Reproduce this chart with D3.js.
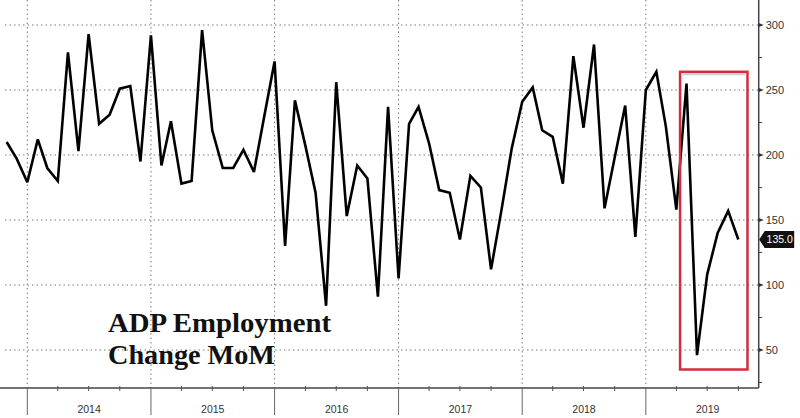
<!DOCTYPE html>
<html>
<head>
<meta charset="utf-8">
<script src="https://cdn.jsdelivr.net/npm/d3@7"></script>
<style>
  html, body { margin: 0; padding: 0; background: #fff; }
  svg { display: block; }
</style>
</head>
<body>
<svg id="chart" width="800" height="418"></svg>
<script>
// ---- Data (ADP Employment Change MoM, thousands) ----
const months = [
  "2013-10","2013-11","2013-12",
  "2014-01","2014-02","2014-03","2014-04","2014-05","2014-06","2014-07","2014-08","2014-09","2014-10","2014-11","2014-12",
  "2015-01","2015-02","2015-03","2015-04","2015-05","2015-06","2015-07","2015-08","2015-09","2015-10","2015-11","2015-12",
  "2016-01","2016-02","2016-03","2016-04","2016-05","2016-06","2016-07","2016-08","2016-09","2016-10","2016-11","2016-12",
  "2017-01","2017-02","2017-03","2017-04","2017-05","2017-06","2017-07","2017-08","2017-09","2017-10","2017-11","2017-12",
  "2018-01","2018-02","2018-03","2018-04","2018-05","2018-06","2018-07","2018-08","2018-09","2018-10","2018-11","2018-12",
  "2019-01","2019-02","2019-03","2019-04","2019-05","2019-06","2019-07","2019-08","2019-09"
];
const values = [
  210, 197, 179,
  212, 190, 180, 279, 203, 293, 224, 231, 251, 253, 195, 292,
  192, 226, 178, 180, 296, 219, 190, 190, 204, 187, 229, 272,
  130, 242, 207, 171, 84, 256, 153, 192, 182, 91, 237, 105,
  224, 237, 209, 173, 171, 135, 184, 175, 112, 158, 205, 241,
  252, 219, 214, 178, 276, 221, 285, 159, 198, 238, 137, 250,
  264, 222, 158, 255, 46, 108, 140, 157, 135
];
const yearLabels = ["2014","2015","2016","2017","2018","2019"];
const yTickValues = [50, 100, 150, 200, 250, 300];
const yMinorTickValues = [25, 75, 125, 175, 225, 275];
const lastLabel = "135.0";
const titleLines = ["ADP Employment", "Change MoM"];
// highlighted period (dates and value bounds)
const highlightDates = ["2019-04-12", "2019-10-28"];
const highlightValues = [35, 264];

// ---- Layout ----
const W = 800, H = 418;
const axisY = 388, axisX = 758.7, plotLeft = 5;

const parse = d3.timeParse("%Y-%m");
const parseDay = d3.timeParse("%Y-%m-%d");
// Values plotted at month end (start of next month)
const data = months.map((m, i) => ({ date: d3.timeMonth.offset(parse(m), 1), value: values[i] }));

const x = d3.scaleTime()
  .domain([new Date(2014, 0, 1), new Date(2020, 0, 1)])
  .range([27.3, 27.3 + 6 * 123.7]);
const y = d3.scaleLinear()
  .domain([50, 300])
  .range([350, 25]);

const svg = d3.select("#chart");
svg.append("rect").attr("width", W).attr("height", H).attr("fill", "#fff");

// Horizontal dotted grid
svg.append("g").selectAll("line").data(yTickValues).join("line")
  .attr("x1", plotLeft).attr("x2", axisX)
  .attr("y1", d => y(d)).attr("y2", d => y(d))
  .attr("stroke", "#7a7a7a").attr("stroke-width", 1)
  .attr("stroke-dasharray", "1.5,3");

// Vertical dotted grid at year boundaries
const yearStarts = yearLabels.map(s => new Date(+s, 0, 1));
svg.append("g").selectAll("line").data(yearStarts).join("line")
  .attr("x1", d => x(d)).attr("x2", d => x(d))
  .attr("y1", 0).attr("y2", axisY)
  .attr("stroke", "#7a7a7a").attr("stroke-width", 1)
  .attr("stroke-dasharray", "1.5,3");

// Bottom axis
const xAxisG = svg.append("g");
xAxisG.append("line")
  .attr("x1", 0).attr("x2", axisX).attr("y1", axisY).attr("y2", axisY)
  .attr("stroke", "#444").attr("stroke-width", 1.5);
// year boundary ticks (long)
xAxisG.selectAll(".ymaj").data(yearStarts).join("line")
  .attr("x1", d => x(d)).attr("x2", d => x(d))
  .attr("y1", axisY).attr("y2", 415)
  .attr("stroke", "#666").attr("stroke-width", 1);
// quarter minor ticks
const quarters = d3.timeMonth.every(3).range(new Date(2014, 0, 1), new Date(2020, 0, 1))
  .filter(d => d.getMonth() !== 0);
xAxisG.selectAll(".qmin").data(quarters).join("line")
  .attr("x1", d => x(d)).attr("x2", d => x(d))
  .attr("y1", axisY - 2).attr("y2", axisY + 3)
  .attr("stroke", "#555").attr("stroke-width", 1);
// year labels
xAxisG.selectAll("text").data(yearLabels).join("text")
  .attr("x", d => (x(new Date(+d, 0, 1)) + x(new Date(+d + 1, 0, 1))) / 2)
  .attr("y", 413)
  .attr("text-anchor", "middle")
  .attr("font-family", "Liberation Sans, Arial, sans-serif")
  .attr("font-size", 10.5)
  .attr("fill", "#333")
  .text(d => d);

// Right axis
const yAxisG = svg.append("g");
yAxisG.append("line")
  .attr("x1", axisX).attr("x2", axisX).attr("y1", 0).attr("y2", axisY)
  .attr("stroke", "#444").attr("stroke-width", 1.5);
yAxisG.selectAll(".ymin").data(yMinorTickValues).join("line")
  .attr("x1", axisX).attr("x2", axisX + 3.5)
  .attr("y1", d => y(d)).attr("y2", d => y(d))
  .attr("stroke", "#444").attr("stroke-width", 1);
yAxisG.selectAll(".ymajt").data(yTickValues).join("path")
  .attr("d", d => `M${axisX},${y(d) - 2}L${axisX + 5},${y(d)}L${axisX},${y(d) + 2}Z`)
  .attr("fill", "#333");
yAxisG.selectAll("text").data(yTickValues).join("text")
  .attr("x", axisX + 7)
  .attr("y", d => y(d))
  .attr("dy", "0.35em")
  .attr("font-family", "Liberation Sans, Arial, sans-serif")
  .attr("font-size", 11)
  .attr("fill", "#333")
  .text(d => d);

// Line
const line = d3.line().x(d => x(d.date)).y(d => y(d.value));
svg.append("path")
  .datum(data)
  .attr("d", line)
  .attr("fill", "none")
  .attr("stroke", "#000")
  .attr("stroke-width", 2.6)
  .attr("stroke-linejoin", "miter")
  .attr("stroke-miterlimit", 3);

// Highlight rectangle
const hx0 = x(parseDay(highlightDates[0])), hx1 = x(parseDay(highlightDates[1]));
const hy0 = y(highlightValues[1]), hy1 = y(highlightValues[0]);
svg.append("line")
  .attr("x1", hx0 + 2).attr("x2", hx1 - 2).attr("y1", hy0 + 2.5).attr("y2", hy0 + 2.5)
  .attr("stroke", "#cfcfcf").attr("stroke-width", 2);
svg.append("rect")
  .attr("x", hx0).attr("y", hy0)
  .attr("width", hx1 - hx0).attr("height", hy1 - hy0)
  .attr("fill", "none")
  .attr("stroke", "#d32c3c")
  .attr("stroke-width", 2.5);

// Last value tag
const last = data[data.length - 1];
const ty = y(last.value);
svg.append("path")
  .attr("d", `M${axisX + 0.5},${ty}L${axisX + 6},${ty - 8.5}L${axisX + 35.5},${ty - 8.5}L${axisX + 35.5},${ty + 8.5}L${axisX + 6},${ty + 8.5}Z`)
  .attr("fill", "#111");
svg.append("text")
  .attr("x", axisX + 21).attr("y", ty).attr("dy", "0.36em")
  .attr("text-anchor", "middle")
  .attr("font-family", "Liberation Sans, Arial, sans-serif")
  .attr("font-size", 10.5)
  .attr("fill", "#fff")
  .text(lastLabel);

// Title
const title = svg.append("text")
  .attr("font-family", "Liberation Serif, 'Times New Roman', serif")
  .attr("font-weight", "bold")
  .attr("font-size", 27)
  .attr("fill", "#111");
title.append("tspan").attr("x", 108).attr("y", 332)
  .attr("textLength", 223).attr("lengthAdjust", "spacingAndGlyphs")
  .text(titleLines[0]);
title.append("tspan").attr("x", 108).attr("y", 364)
  .attr("textLength", 167).attr("lengthAdjust", "spacingAndGlyphs")
  .text(titleLines[1]);
</script>
</body>
</html>
